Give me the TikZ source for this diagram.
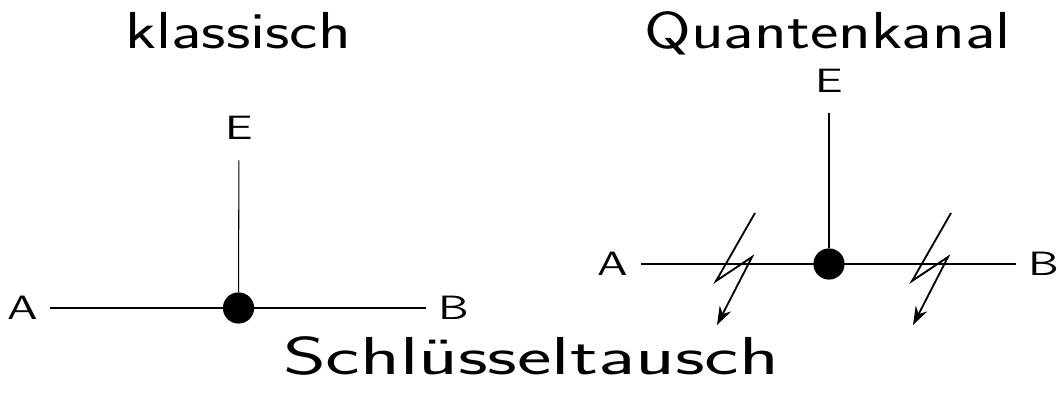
\documentclass[tikz,border=0pt]{standalone}
\usepackage{fontspec}
\newfontfamily\titlefont[FakeStretch=1.30]{lmsans17-regular.otf}
\newfontfamily\bigfont[FakeStretch=1.54]{lmsans17-regular.otf}
\newfontfamily\labfont[FakeStretch=1.4]{lmsans12-regular.otf}
\usetikzlibrary{arrows.meta}

\begin{document}
\begin{tikzpicture}[
    >={Stealth[length=4.6mm, width=3.2mm, inset=1.5mm]},
    title/.style ={anchor=base, inner sep=0pt, font=\titlefont\fontsize{37}{40}\selectfont},
    bigtitle/.style={anchor=base, inner sep=0pt, font=\bigfont\fontsize{38}{42}\selectfont},
    party/.style ={inner sep=0pt, minimum width=1.375cm, minimum height=1.6cm,
                   font=\labfont\fontsize{24}{26}\selectfont},
    tap/.style   ={circle, fill=black, inner sep=0pt, minimum size=0.78cm},
    chan/.style  ={line width=1.6pt},
    spy/.style   ={line width=0.75pt},
    zap/.style   ={->, line width=1.3pt},
    bolt/.pic    ={\draw[zap] (0,0) -- (-0.975,-1.7) -- (-0.075,-1.1) -- (-0.95,-2.8);}
  ]
  \useasboundingbox (0,0) rectangle (26.45,9.85);

  % ---- titles ------------------------------------------------------------
  \node[title]    (tcl) at (5.95, 8.625)    {klassisch};
  \node[title]    (tqu) at (20.6875, 8.625) {Quantenkanal};
  \node[bigtitle] (tkx) at (13.275, 0.475)  {Schlüsseltausch};

  % ---- classical channel -----------------------------------------------
  \node[party] (cA) at (0.5625, 2.15) {A};
  \node[party] (cB) at (11.35,  2.15) {B};
  \node[party] (cE) at (5.975,  6.65) {E};
  \node[tap]   (cT) at (5.9625, 2.15) {};
  \draw[chan] (cA) -- (cB);
  \draw[spy]  (cE) -- (cT);

  % ---- quantum channel ---------------------------------------------------
  \node[party] (qA) at (15.325, 3.25) {A};
  \node[party] (qB) at (26.1,   3.25) {B};
  \node[party] (qE) at (20.725, 7.825) {E};
  \node[tap]   (qT) at (20.725, 3.25) {};
  \draw[chan] (qA) -- (qB);
  \draw[spy]  (qE) -- (qT);

  % disturbance marks
  \pic at (18.875, 4.525) {bolt};
  \pic at (23.775, 4.525) {bolt};

\end{tikzpicture}
\end{document}
